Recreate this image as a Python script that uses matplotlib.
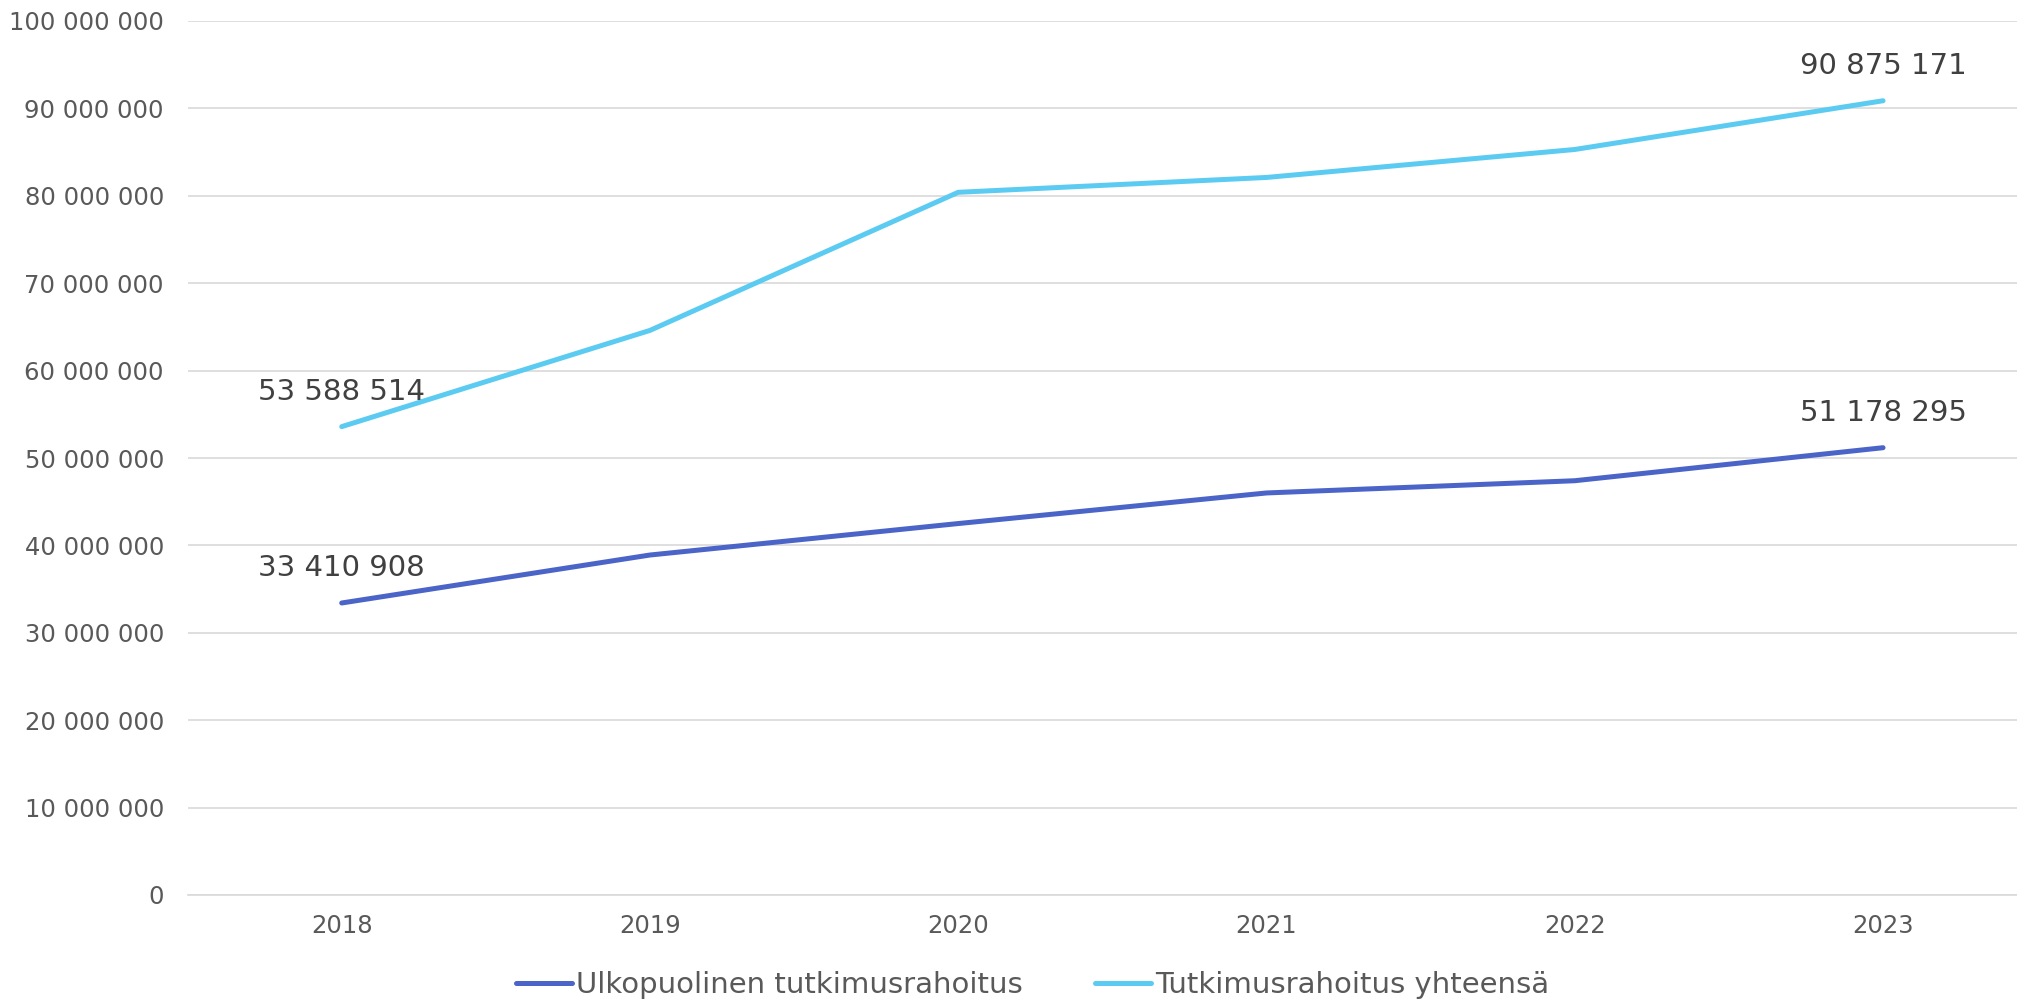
import matplotlib
matplotlib.use("Agg")
import matplotlib.pyplot as plt
from matplotlib.ticker import FuncFormatter

# data
years = ["2018", "2019", "2020", "2021", "2022", "2023"]
ulkopuolinen = [33410908, 38900000, 42500000, 46000000, 47400000, 51178295]
yhteensa = [53588514, 64600000, 80400000, 82100000, 85300000, 90875171]
labels_ulko = {0: "33 410 908", 5: "51 178 295"}
labels_yht = {0: "53 588 514", 5: "90 875 171"}

dark = "#4a64c8"
light = "#5ccbf2"

plt.rcParams['font.family'] = ['DejaVu Sans']

fig = plt.figure(figsize=(20.17, 10), dpi=100)
# the plot area runs a bit past the right edge, like in the original
ax = fig.add_axes([0.093, 0.105, 0.917, 0.874])

x = list(range(len(years)))
ax.plot(x, ulkopuolinen, color=dark, lw=3.6, solid_capstyle="round", label="Ulkopuolinen tutkimusrahoitus", zorder=3)
ax.plot(x, yhteensa, color=light, lw=3.6, solid_capstyle="round", label="Tutkimusrahoitus yhteensä", zorder=3)

# data labels (first and last point only)
for series, labs in [(ulkopuolinen, labels_ulko), (yhteensa, labels_yht)]:
    for i, txt in labs.items():
        ax.annotate(txt, (x[i], series[i]), xytext=(0, 25), textcoords="offset points",
                    ha="center", va="center", fontsize=21, color="#404040")

ax.set_xlim(-0.5, 5.5)
ax.set_ylim(0, 100000000)
ax.set_yticks(range(0, 100000001, 10000000))
ax.yaxis.set_major_formatter(FuncFormatter(lambda v, p: "{:,}".format(int(v)).replace(",", " ")))
ax.set_xticks(x)
ax.set_xticklabels(years)

ax.grid(axis="y", color="#d9d9d9", lw=1.2)
ax.set_axisbelow(True)
for s in ["top", "right", "left"]:
    ax.spines[s].set_visible(False)
ax.spines["bottom"].set_color("#d9d9d9")
ax.spines["bottom"].set_linewidth(1.2)
ax.tick_params(axis="both", length=0, labelsize=17.5, labelcolor="#595959")
ax.tick_params(axis="y", pad=17)
ax.tick_params(axis="x", pad=14)

leg = fig.legend(loc="center", bbox_to_anchor=(0.512, 0.015), ncol=2, frameon=False,
                 fontsize=21, handlelength=1.9, handletextpad=0.14, columnspacing=2.5)
for t in leg.get_texts():
    t.set_color("#595959")

fig.savefig("out.png", dpi=100)
